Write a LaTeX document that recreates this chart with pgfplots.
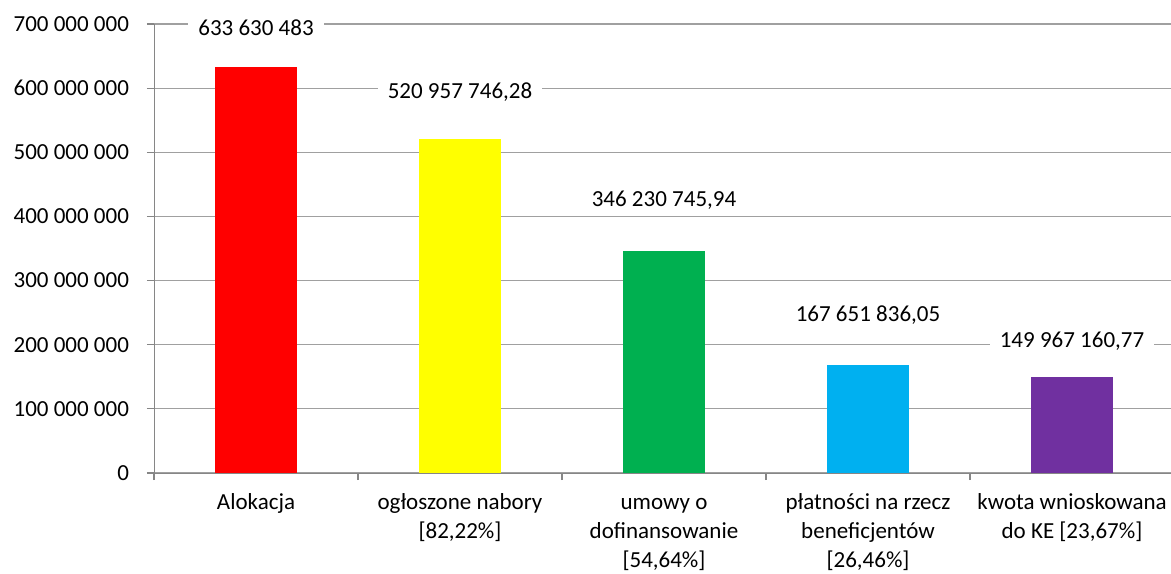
\documentclass[border=0pt]{standalone}
\usepackage{fontspec}
\setmainfont{Carlito}
\usepackage{pgfplots}
\pgfplotsset{compat=1.18}
\usetikzlibrary{calc}

\definecolor{gridgray}{RGB}{160,160,160}
\definecolor{axgray}{RGB}{134,134,134}
\definecolor{barred}{RGB}{255,0,0}
\definecolor{baryellow}{RGB}{255,255,0}
\definecolor{bargreen}{RGB}{0,176,80}
\definecolor{barblue}{RGB}{0,176,240}
\definecolor{barpurple}{RGB}{112,48,160}

\begin{document}
\begin{tikzpicture}[font=\fontsize{11.5}{15}\selectfont]
\begin{axis}[
    scale only axis,
    width=510pt, height=224.5pt,
    xmin=-0.5, xmax=4.5,
    ymin=0, ymax=700000000,
    axis lines*=left,
    axis line style={axgray},
    clip=false,
    ymajorgrids,
    grid style={gridgray, line width=0.6pt},
    ytick={0,100000000,200000000,300000000,400000000,500000000,600000000,700000000},
    yticklabels={0,100 000 000,200 000 000,300 000 000,400 000 000,500 000 000,600 000 000,700 000 000},
    scaled y ticks=false,
    xtick={-0.5,0.5,1.5,2.5,3.5,4.5},
    xticklabels={,,,,,},
    tick align=outside,
    major tick length=3.5pt,
    tick style={axgray, line width=0.6pt},
    tick label style={font=\fontsize{11.5}{15}\selectfont},
    extra x ticks={0,1,2,3,4},
    extra x tick labels={\strut Alokacja,
        {\strut ogłoszone nabory\\{[}82,22\%{]}},
        {\strut umowy o\\dofinansowanie\\{[}54,64\%{]}},
        {\strut płatności na rzecz\\beneficjentów\\{[}26,46\%{]}},
        {\strut kwota wnioskowana\\do KE {[}23,67\%{]}}},
    extra x tick style={major tick length=0pt, tick style={draw=none},
        tick label style={align=center, yshift=-4.5pt,
            font=\fontsize{11.5}{14.6}\selectfont}},
    yticklabel style={xshift=-5.5pt},
    nodes near coords style={anchor=center, fill=white, inner xsep=5pt, inner ysep=1pt,
        font=\fontsize{11.5}{15}\selectfont},
]
\coordinate (O) at (rel axis cs:0,0);
\addplot[ybar, bar width=41pt, bar shift=0pt, fill=barred, draw=none] coordinates {(0,633630483)};
\addplot[ybar, bar width=41pt, bar shift=0pt, fill=baryellow, draw=none] coordinates {(1,520957746.28)};
\addplot[ybar, bar width=41pt, bar shift=0pt, fill=bargreen, draw=none] coordinates {(2,346230745.94)};
\addplot[ybar, bar width=41pt, bar shift=0pt, fill=barblue, draw=none] coordinates {(3,167651836.05)};
\addplot[ybar, bar width=41pt, bar shift=0pt, fill=barpurple, draw=none] coordinates {(4,149967160.77)};
% data labels, placed as in the source chart
\addplot[draw=none, nodes near coords, point meta=explicit symbolic] coordinates {
    (0,693800000) [633 630 483]
    (1,594000000) [520 957 746,28]
    (2,424900000) [346 230 745,94]
    (3,246300000) [167 651 836,05]
    (4,205000000) [149 967 160,77]
};
\end{axis}
\pgfresetboundingbox
\path[use as bounding box] ($(O)+(-77pt,-50pt)$) rectangle ($(O)+(508.5pt,236.5pt)$);
\end{tikzpicture}
\end{document}
